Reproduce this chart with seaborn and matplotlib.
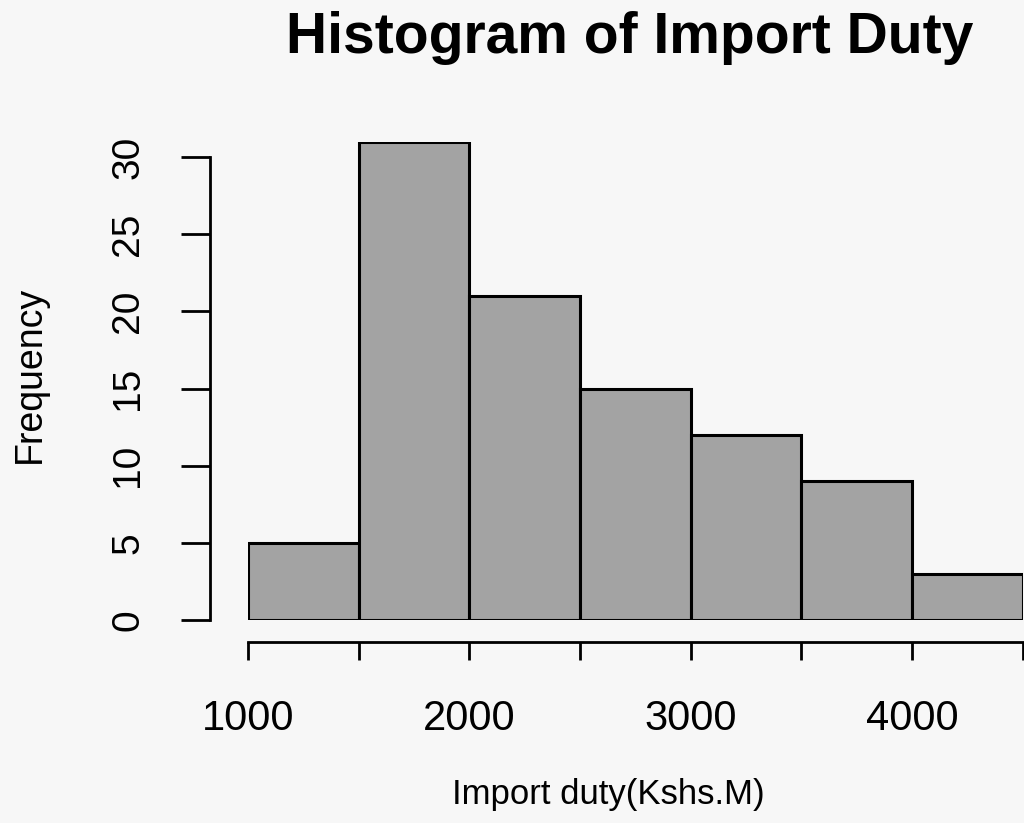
import numpy as np
import matplotlib
matplotlib.use('Agg')
import matplotlib.pyplot as plt
import seaborn as sns

# Histogram of import duty (Kshs. M): bin edges and counts
bin_edges = [1000, 1500, 2000, 2500, 3000, 3500, 4000, 4500]
counts = [5, 31, 21, 15, 12, 9, 3]
x_ticks = [1000, 1500, 2000, 2500, 3000, 3500, 4000, 4500]
x_tick_labels = ['1000', '', '2000', '', '3000', '', '4000', '']
y_ticks = [0, 5, 10, 15, 20, 25, 30]

sns.set_style('white')
plt.rcParams['font.family'] = ['Liberation Sans', 'DejaVu Sans']
plt.rcParams['text.color'] = 'black'
plt.rcParams['axes.labelcolor'] = 'black'
plt.rcParams['xtick.color'] = 'black'
plt.rcParams['ytick.color'] = 'black'

bin_mids = [(a + b) / 2 for a, b in zip(bin_edges[:-1], bin_edges[1:])]

fig = plt.figure(figsize=(10.24, 8.23), dpi=100, facecolor='#f7f7f7')
ax = fig.add_axes([0.242, 0.2467, 0.757, 0.581])
ax.set_facecolor('none')

sns.histplot(x=bin_mids, weights=counts, bins=bin_edges, ax=ax,
             color='#a3a3a3', alpha=1.0, edgecolor='black', linewidth=2.2)

ax.set_xlim(1000, 4500)
ax.set_ylim(0, 31)

# R-style detached axes
for side in ['top', 'right']:
    ax.spines[side].set_visible(False)
ax.spines['left'].set_position(('outward', 27))
ax.spines['bottom'].set_position(('outward', 16))
ax.spines['left'].set_bounds(0, 30)
ax.spines['bottom'].set_bounds(1000, 4500)
for side in ['left', 'bottom']:
    ax.spines[side].set_linewidth(2.0)
    ax.spines[side].set_color('black')

ax.set_xticks(x_ticks)
ax.set_xticklabels(x_tick_labels, fontsize=30)
ax.set_yticks(y_ticks)
ax.set_yticklabels([str(v) for v in y_ticks], fontsize=28, rotation=90, va='center')
ax.tick_params(axis='y', length=21, width=2.0, pad=25, left=True)
ax.tick_params(axis='x', length=13, width=2.0, pad=28, bottom=True)

ax.set_xlabel('Import duty(Kshs.M)', fontsize=25, va='center')
ax.xaxis.set_label_coords(0.4645, -0.366)
ax.set_ylabel('Frequency', fontsize=27, va='center')
ax.yaxis.set_label_coords(-0.281, 0.513)

fig.text(0.615, 1 - 38 / 823, 'Histogram of Import Duty', fontsize=41,
         fontweight='bold', ha='center', va='center')

fig.savefig('out.png', dpi=100, facecolor=fig.get_facecolor())
